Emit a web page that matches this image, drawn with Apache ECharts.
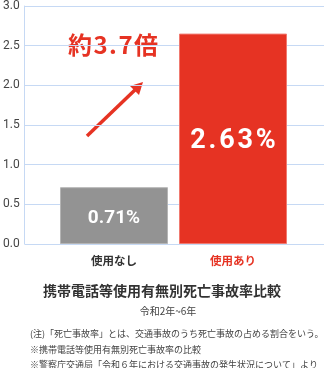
<!DOCTYPE html>
<html><head><meta charset="utf-8">
<script src="https://cdn.jsdelivr.net/npm/echarts@6/dist/echarts.min.js"></script>
<style>html,body{margin:0;padding:0;background:#fff}#c{width:324px;height:368px}</style>
</head><body><div id="c"></div>
<script>
const categories = ['使用なし', '使用あり'];
const values = [0.71, 2.63];
const valueLabels = ['0.71%', '2.63%'];
const yTicks = [0, 0.5, 1.0, 1.5, 2.0, 2.5, 3.0];
const ratioText = '約3.7倍';
const title = '携帯電話等使用有無別死亡事故率比較';
const subtitle = '令和2年~6年';
const notes = [
  '(注)「死亡事故率」とは、交通事故のうち死亡事故の占める割合をいう。',
  '※携帯電話等使用有無別死亡事故率の比較',
  '※警察庁交通局「令和６年における交通事故の発生状況について」より'
];

const RED = '#e63323', GRAY = '#939393', GRID = '#c6d9f4';
const FONT = '"Noto Sans CJK JP", sans-serif';
const spaced = (s, sp) => s.split('').join(sp);
const chart = echarts.init(document.getElementById('c'), null, {renderer: 'canvas'});
const barColors = [GRAY, RED];
const borderColors = ['#b5b5b5', '#f07a70'];
const labelSizes = [19, 27];
const labelSpacing = ['', '\u200a'];
const labelOffsets = [[0, 3], [0, 2]];

chart.setOption({
  animation: false,
  grid: [
    {left: 24, right: 0, top: 4, height: 240},
    {left: 54.5, right: 31.5, top: 4, height: 240}
  ],
  xAxis: [
    {gridIndex: 0, type: 'category', data: categories, show: false},
    {gridIndex: 1, type: 'category', data: categories,
     axisLine: {show: false}, axisTick: {show: false},
     axisLabel: {margin: 11, fontFamily: FONT, fontWeight: 'bold', fontSize: 11.5,
       formatter: (v, i) => i === 0 ? '{a|' + v + '}' : '{b|' + v + '}',
       rich: {a: {color: '#333', fontFamily: FONT, fontWeight: 'bold', fontSize: 11.5},
              b: {color: RED, fontFamily: FONT, fontWeight: 'bold', fontSize: 11.5}}}}
  ],
  yAxis: [
    {gridIndex: 0, type: 'value', min: 0, max: 3, interval: 0.5,
     axisLine: {show: true, lineStyle: {color: GRID}}, axisTick: {show: false},
     splitLine: {lineStyle: {color: GRID}},
     axisLabel: {margin: 5, color: '#444', fontSize: 12, fontFamily: 'Roboto, sans-serif',
       formatter: v => yTicks.indexOf(v) >= 0 ? v.toFixed(1) : ''}},
    {gridIndex: 1, type: 'value', min: 0, max: 3, show: false}
  ],
  series: [{
    type: 'bar', xAxisIndex: 1, yAxisIndex: 1, barWidth: 108,
    data: values.map((v, i) => ({
      value: v,
      itemStyle: {color: barColors[i], borderColor: borderColors[i], borderWidth: 1},
      label: {show: true, position: 'inside', offset: labelOffsets[i],
        formatter: spaced(valueLabels[i], labelSpacing[i]), color: '#fff', fontWeight: 'bold',
        fontFamily: 'Roboto, sans-serif', fontSize: labelSizes[i]}
    }))
  }],
  graphic: [
    {type: 'text', left: 'center', top: 284,
     style: {text: title, fontFamily: FONT, fontWeight: 'bold', fontSize: 14, fill: '#333'}},
    {type: 'text', x: 168, y: 306,
     style: {text: subtitle, fontFamily: FONT, fontSize: 10, fill: '#444', align: 'center'}},
    {type: 'text', x: 30, y: 326,
     style: {text: notes.join('\n'), fontFamily: FONT, fontSize: 9, lineHeight: 15.5, fill: '#444'}},
    {type: 'text', x: 113, y: 45,
     style: {text: spaced(ratioText, '\u200a'), fontFamily: FONT, fontWeight: 'bold', fontSize: 24, fill: RED,
       align: 'center', verticalAlign: 'middle'}},
    {type: 'line', shape: {x1: 87, y1: 136, x2: 137, y2: 88},
     style: {stroke: RED, lineWidth: 3.5}},
    {type: 'polygon', shape: {points: [[143, 82], [130, 86], [139, 95]]},
     style: {fill: RED}}
  ]
});
</script></body></html>
